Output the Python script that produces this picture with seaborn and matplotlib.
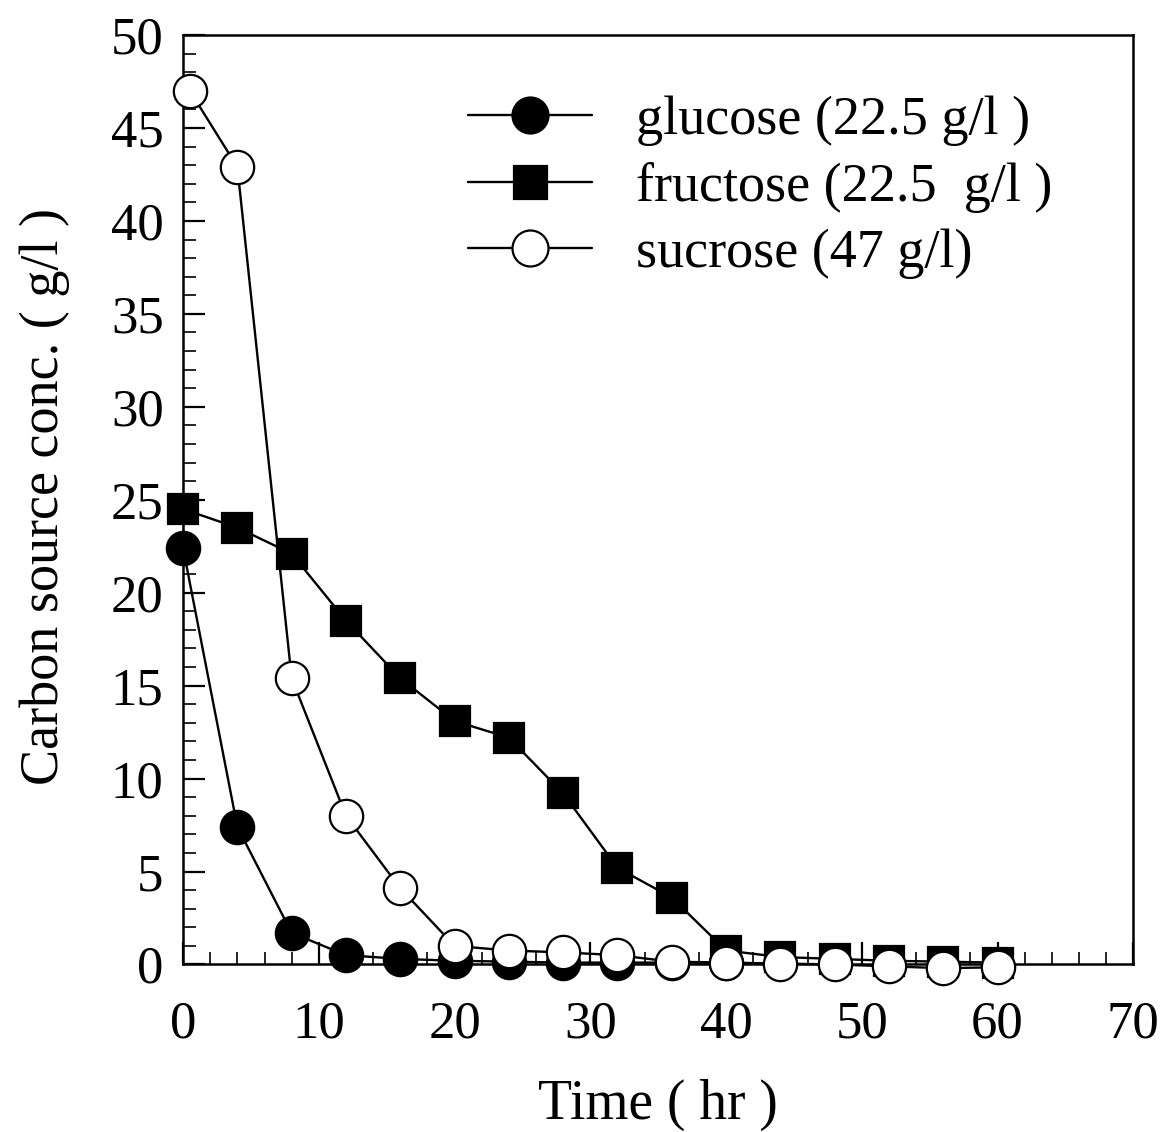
import matplotlib
matplotlib.use("Agg")
import matplotlib.pyplot as plt
from matplotlib.ticker import MultipleLocator
import seaborn as sns
import pandas as pd

# ---- data ----
glucose_t = [0, 4, 8, 12, 16, 20, 24, 28, 32, 36, 40]
glucose_c = [22.4, 7.4, 1.7, 0.5, 0.3, 0.2, 0.15, 0.1, 0.1, 0.1, 0.1]

fructose_t = [0, 4, 8, 12, 16, 20, 24, 28, 32, 36, 40, 44, 48, 52, 56, 60]
fructose_c = [24.5, 23.5, 22.1, 18.5, 15.4, 13.1, 12.2, 9.2, 5.2, 3.6, 0.75, 0.4, 0.3, 0.2, 0.15, 0.1]

sucrose_t = [0.5, 4, 8, 12, 16, 20, 24, 28, 32, 36, 40, 44, 48, 52, 56, 60]
sucrose_c = [47.0, 42.9, 15.4, 8.0, 4.1, 1.0, 0.75, 0.65, 0.5, 0.15, 0.1, 0.05, 0.0, -0.1, -0.2, -0.15]

labels = ["glucose (22.5 g/l )", "fructose (22.5  g/l )", "sucrose (47 g/l)"]
x_ticks = [0, 10, 20, 30, 40, 50, 60, 70]
y_ticks = [0, 5, 10, 15, 20, 25, 30, 35, 40, 45, 50]

sns.set_theme(style="ticks")
plt.rcParams["font.family"] = ["Liberation Serif", "DejaVu Serif"]

fig = plt.figure(figsize=(11.66, 11.32), dpi=100)
ax = fig.add_axes([0.157, 0.148, 0.815, 0.821])

series = [
    (glucose_t, glucose_c, labels[0], dict(marker="o", markersize=24, markerfacecolor="black")),
    (fructose_t, fructose_c, labels[1], dict(marker="s", markersize=22, markerfacecolor="black")),
    (sucrose_t, sucrose_c, labels[2], dict(marker="o", markersize=24, markerfacecolor="white")),
]
for i, (t, c, lab, mk) in enumerate(series):
    df = pd.DataFrame({"t": t, "c": c})
    sns.lineplot(data=df, x="t", y="c", ax=ax, color="black", linewidth=1.7,
                 markeredgecolor="black", markeredgewidth=1.6, label=lab,
                 clip_on=False, zorder=3 + i, **mk)

ax.set_xlim(0, 70)
ax.set_ylim(0, 50)
ax.set_xticks(x_ticks)
ax.set_yticks(y_ticks)
ax.xaxis.set_minor_locator(MultipleLocator(2))
ax.yaxis.set_minor_locator(MultipleLocator(1))
ax.tick_params(axis="both", which="major", direction="in", length=16, width=1.6,
               labelsize=38, colors="black")
ax.tick_params(axis="both", which="minor", direction="in", length=9, width=1.4)
ax.tick_params(axis="x", which="major", pad=26)
ax.tick_params(axis="y", which="major", pad=14)
for s in ax.spines.values():
    s.set_linewidth(1.8)
    s.set_color("black")
    s.set_visible(True)

ax.set_xlabel("Time ( hr )", fontsize=40, color="black")
ax.set_ylabel("Carbon source conc. ( g/l )", fontsize=39, color="black")
ax.xaxis.set_label_coords(0.5, -0.1227)
ax.yaxis.set_label_coords(-0.119, 0.503)

leg = ax.legend(loc="upper left", bbox_to_anchor=(0.300, 0.935), frameon=False,
                fontsize=39, handlelength=2.29, handletextpad=0.8, labelspacing=0.29,
                borderaxespad=0, borderpad=0, markerscale=1.08)
for txt in leg.get_texts():
    txt.set_color("black")

fig.savefig("out.png", dpi=100, facecolor="white")
